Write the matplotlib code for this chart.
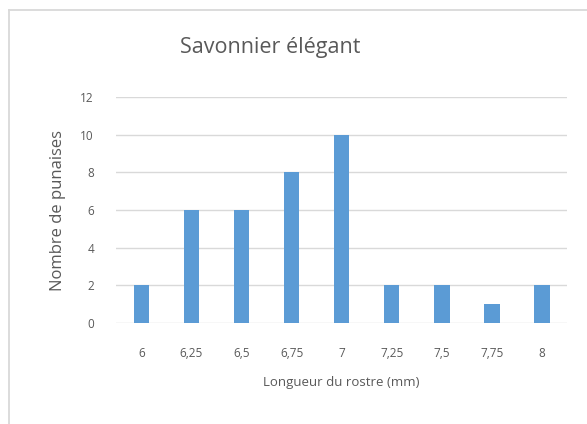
import matplotlib
matplotlib.use("Agg")
import matplotlib.pyplot as plt
from matplotlib.lines import Line2D
import numpy as np

# Données
longueurs = ["6", "6,25", "6,5", "6,75", "7", "7,25", "7,5", "7,75", "8"]
nb_punaises = [2, 6, 6, 8, 10, 2, 2, 1, 2]

plt.rcParams["font.family"] = ["Open Sans", "DejaVu Sans"]
gris_txt = "#595959"

fig = plt.figure(figsize=(5.87, 4.24), dpi=100)
ax = fig.add_axes([0.198, 0.238, 0.768, 0.533])

# cadre du graphique (style Excel), seuls les bords gauche et haut sont visibles
x0, y0 = 9 / 587, 1 - 10 / 424
fig.lines.append(Line2D([x0, x0], [0, y0], transform=fig.transFigure,
                        color="#d9d9d9", linewidth=1.3))
fig.lines.append(Line2D([x0, 1], [y0, y0], transform=fig.transFigure,
                        color="#d9d9d9", linewidth=1.3))

x = np.arange(len(longueurs))
ax.bar(x, nb_punaises, width=0.31, color="#5b9bd5", zorder=3)

ax.set_xlim(-0.5, len(longueurs) - 0.5)
ax.set_ylim(0, 12)
ax.set_yticks(range(0, 13, 2))
ax.set_xticks(x)
ax.set_xticklabels(longueurs)
ax.grid(axis="y", color="#d9d9d9", linewidth=1, zorder=0)
for s in ax.spines.values():
    s.set_visible(False)
ax.tick_params(length=0, labelsize=8.5, colors=gris_txt)
ax.tick_params(axis="x", pad=17)
ax.tick_params(axis="y", pad=16)

fig.text(270 / 587, 1 - 48 / 424, "Savonnier élégant", fontsize=15.5,
         color=gris_txt, ha="center", va="center")
ax.set_xlabel("Longueur du rostre (mm)", fontsize=9.5, color=gris_txt, labelpad=12)
ax.set_ylabel("Nombre de punaises", fontsize=12, color=gris_txt, labelpad=10)

plt.savefig("out.png")
plt.close()
